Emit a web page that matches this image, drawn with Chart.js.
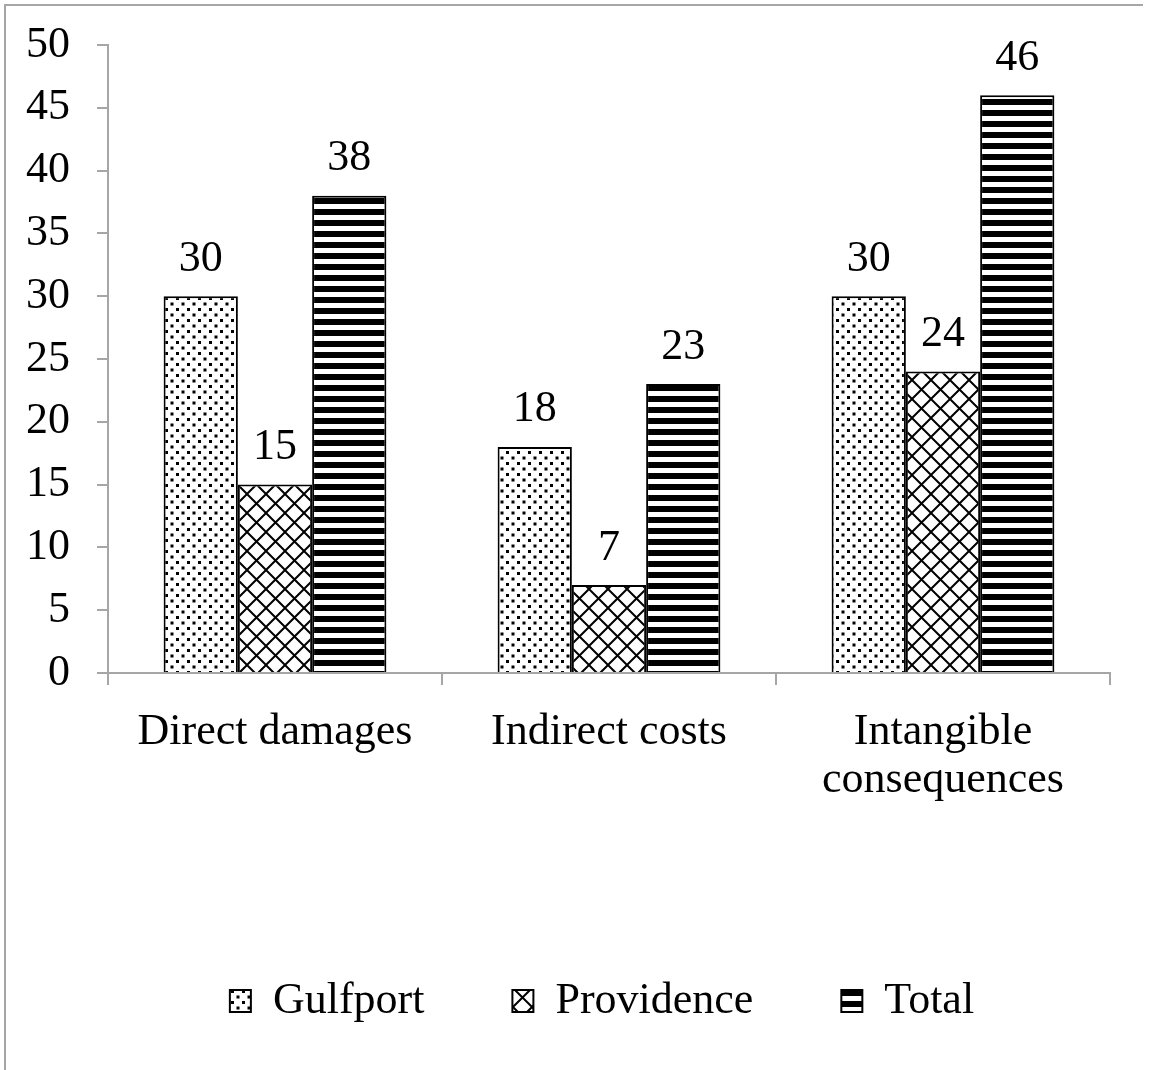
<!DOCTYPE html>
<html lang="en">
<head>
    <meta charset="UTF-8">
    <title>Damages Bar Chart</title>
    <script src="https://cdn.jsdelivr.net/npm/chart.js"></script>
    <style>
        body { margin: 0; background: #fff; }
        #wrap { width: 1153px; height: 1070px; }
    </style>
</head>
<body>

<div id="wrap"><canvas id="myBarChart" width="1153" height="1070"></canvas></div>

<script>
    const categories = ['Direct damages', 'Indirect costs', ['Intangible', 'consequences']];
    const gulfport = [30, 18, 30];
    const providence = [15, 7, 24];
    const total = [38, 23, 46];
    const yTicks = [0, 5, 10, 15, 20, 25, 30, 35, 40, 45, 50];

    const axisGray = '#a6a6a6';
    const font = { family: "'Liberation Serif', 'Times New Roman', serif", size: 44 };

    // fill patterns like the old office hatch fills
    const makePattern = (size, draw) => {
        const c = document.createElement('canvas');
        c.width = size;
        c.height = size;
        const g = c.getContext('2d');
        g.fillStyle = '#fff';
        g.fillRect(0, 0, size, size);
        draw(g, size);
        return g.createPattern(c, 'repeat');
    };

    const ctx = document.getElementById('myBarChart').getContext('2d');

    const dots = makePattern(11, (g) => {
        g.fillStyle = '#000';
        g.fillRect(0, 0, 3, 3);
        g.fillRect(5.5, 5.5, 3, 3);
    });

    const cross = makePattern(19, (g, s) => {
        g.strokeStyle = '#000';
        g.lineWidth = 2;
        g.beginPath();
        for (const o of [-s, 0, s]) {
            g.moveTo(o, 0); g.lineTo(o + s, s);
            g.moveTo(o + s, 0); g.lineTo(o, s);
        }
        g.stroke();
    });

    const stripes = makePattern(11, (g, s) => {
        g.fillStyle = '#000';
        g.fillRect(0, 0, s, 6);
    });

    // value labels above bars
    const valueLabels = {
        id: 'valueLabels',
        afterDatasetsDraw(chart) {
            const c = chart.ctx;
            c.save();
            c.font = font.size + 'px ' + font.family;
            c.fillStyle = '#000';
            c.textAlign = 'center';
            c.textBaseline = 'middle';
            chart.data.datasets.forEach((ds, i) => {
                chart.getDatasetMeta(i).data.forEach((bar, j) => {
                    c.fillText(ds.data[j], bar.x, bar.y - 37);
                });
            });
            c.restore();
        }
    };

    // thin gray frame round the chart, and nudge the legend right a bit
    const frame = {
        id: 'frame',
        afterLayout(chart) {
            chart.legend.left += 42;
            chart.legend.right += 42;
        },
        beforeDraw(chart) {
            const c = chart.ctx;
            c.save();
            c.strokeStyle = axisGray;
            c.lineWidth = 2;
            c.beginPath();
            c.moveTo(5, chart.height);
            c.lineTo(5, 5);
            c.lineTo(1143, 5);
            c.stroke();
            c.restore();
        }
    };

    new Chart(ctx, {
        type: 'bar',
        data: {
            labels: categories,
            datasets: [
                { label: 'Gulfport', data: gulfport, backgroundColor: dots, borderColor: '#000', borderWidth: 2 },
                { label: 'Providence', data: providence, backgroundColor: cross, borderColor: '#000', borderWidth: 2 },
                { label: 'Total', data: total, backgroundColor: stripes, borderColor: '#000', borderWidth: 2 }
            ]
        },
        options: {
            responsive: false,
            animation: false,
            layout: { padding: { top: 45, left: 10, right: 43, bottom: 37 } },
            datasets: {
                bar: { categoryPercentage: 0.667, barPercentage: 1 }
            },
            plugins: {
                legend: {
                    position: 'bottom',
                    labels: {
                        color: '#000',
                        font: font,
                        boxWidth: 21,
                        boxHeight: 22,
                        padding: 88
                    }
                },
                tooltip: { enabled: false }
            },
            scales: {
                x: {
                    grid: { drawOnChartArea: false, color: axisGray, lineWidth: 2, tickLength: 12 },
                    border: { color: axisGray, width: 2 },
                    ticks: { color: '#000', font: { ...font, lineHeight: 1.1 }, padding: 23, maxRotation: 0 },
                    afterFit: (scale) => { scale.height = 218; }
                },
                y: {
                    min: 0,
                    max: 50,
                    afterBuildTicks: (scale) => { scale.ticks = yTicks.map(v => ({ value: v })); },
                    grid: { drawOnChartArea: false, color: axisGray, lineWidth: 2, tickLength: 11 },
                    border: { color: axisGray, width: 2 },
                    ticks: { color: '#000', font: font, padding: 27 },
                    afterFit: (scale) => {
                        scale.width = 98;
                        scale.paddingTop = 10;
                        scale.paddingBottom = 10;
                    }
                }
            }
        },
        plugins: [frame, valueLabels]
    });
</script>

</body>
</html>
